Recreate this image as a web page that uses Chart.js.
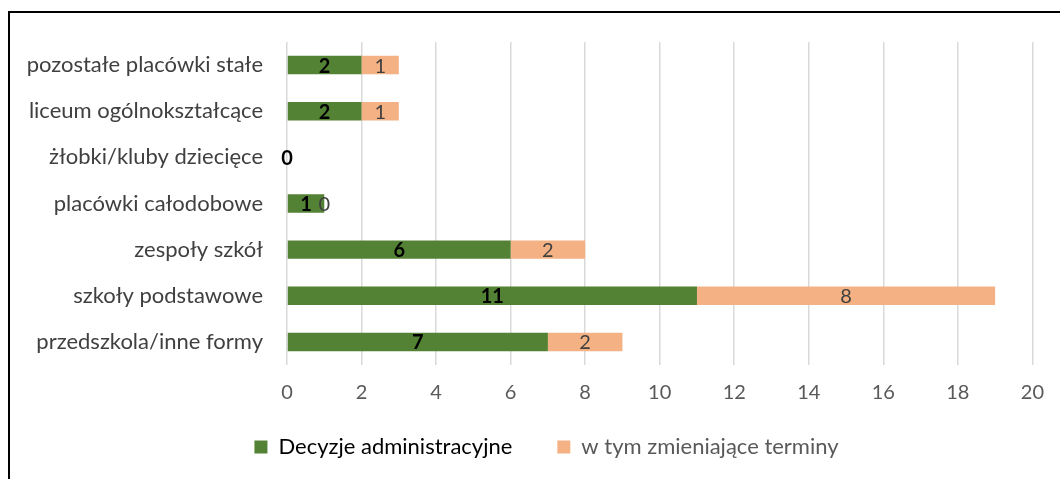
<!DOCTYPE html>
<html><head><meta charset="utf-8">
<script src="https://cdn.jsdelivr.net/npm/chart.js@4/dist/chart.umd.min.js"></script>
<style>
html,body{margin:0;padding:0;background:#fff;}
#frame{position:absolute;left:8px;top:11px;width:1100px;height:520px;border-top:2px solid #000;border-left:2px solid #000;}
#wrap{position:absolute;left:0;top:0;width:1060px;height:479px;}
</style></head>
<body>
<div id="frame"></div>
<div id="wrap"><canvas id="c" width="1060" height="479"></canvas></div>
<script>
const categories = ['pozostałe placówki stałe','liceum ogólnokształcące','żłobki/kluby dziecięce','placówki całodobowe','zespoły szkół','szkoły podstawowe','przedszkola/inne formy'];
const decyzje = [2, 2, 0, 1, 6, 11, 7];
const zmieniajace = [1, 1, null, 0, 2, 8, 2];
const seriesNames = ['Decyzje administracyjne','w tym zmieniające terminy'];
const xTicks = [0,2,4,6,8,10,12,14,16,18,20];

const FONT = "Lato, sans-serif";

const labelPlugin = {
  id: 'barLabels',
  afterDatasetsDraw(chart) {
    const ctx = chart.ctx;
    chart.data.datasets.forEach((ds, di) => {
      const meta = chart.getDatasetMeta(di);
      meta.data.forEach((bar, i) => {
        const v = ds.data[i];
        if (v === null || v === undefined) return;
        const cx = (bar.x + bar.base) / 2;
        ctx.save();
        ctx.textAlign = 'center';
        ctx.textBaseline = 'middle';
        if (di === 0) { ctx.font = "bold 20px " + FONT; ctx.fillStyle = '#000'; }
        else { ctx.font = "20px " + FONT; ctx.fillStyle = '#404040'; }
        ctx.fillText(String(v), cx, bar.y + 1);
        ctx.restore();
      });
    });
  }
};

const legendShift = {
  id: 'legendShift',
  afterLayout(chart) {
    const lg = chart.legend;
    const dx = 25, dy = -30;
    lg.left += dx; lg.right += dx; lg.top += dy;
    lg.bottom = chart.height; lg.height = lg.bottom - lg.top;
  }
};

new Chart(document.getElementById('c'), {
  type: 'bar',
  data: {
    labels: categories,
    datasets: [
      { label: seriesNames[0], data: decyzje, backgroundColor: '#548235', categoryPercentage: 0.8, barPercentage: 0.5 },
      { label: seriesNames[1], data: zmieniajace, backgroundColor: '#F4B183', categoryPercentage: 0.8, barPercentage: 0.5 }
    ]
  },
  options: {
    indexAxis: 'y',
    responsive: false,
    animation: false,
    layout: { padding: { top: 42, left: 10, right: 27, bottom: 0 } },
    scales: {
      x: {
        stacked: true, min: 0, max: 20,
        afterBuildTicks(axis) { axis.ticks = xTicks.map(v => ({ value: v })); },
        grid: { color: '#d9d9d9', lineWidth: 1.5, drawTicks: false },
        border: { display: false },
        ticks: { color: '#595959', font: { family: FONT, size: 20 }, padding: 16 }
      },
      y: {
        stacked: true,
        afterFit(axis) { axis.width = 277; },
        grid: { display: false },
        border: { display: false },
        ticks: { color: '#404040', font: { family: FONT, size: 22 }, padding: 16 }
      }
    },
    plugins: {
      tooltip: { enabled: false },
      legend: {
        position: 'bottom',
        maxHeight: 58,
        labels: {
          boxWidth: 13, boxHeight: 13, padding: 45,
          font: { family: FONT, size: 22 },
          generateLabels(chart) {
            const cols = ['#000000', '#595959'];
            return chart.data.datasets.map((ds, i) => ({
              text: ds.label, fillStyle: ds.backgroundColor, strokeStyle: ds.backgroundColor,
              lineWidth: 0, datasetIndex: i, fontColor: cols[i], hidden: false
            }));
          }
        }
      }
    }
  },
  plugins: [labelPlugin, legendShift]
});
</script>
</body></html>
